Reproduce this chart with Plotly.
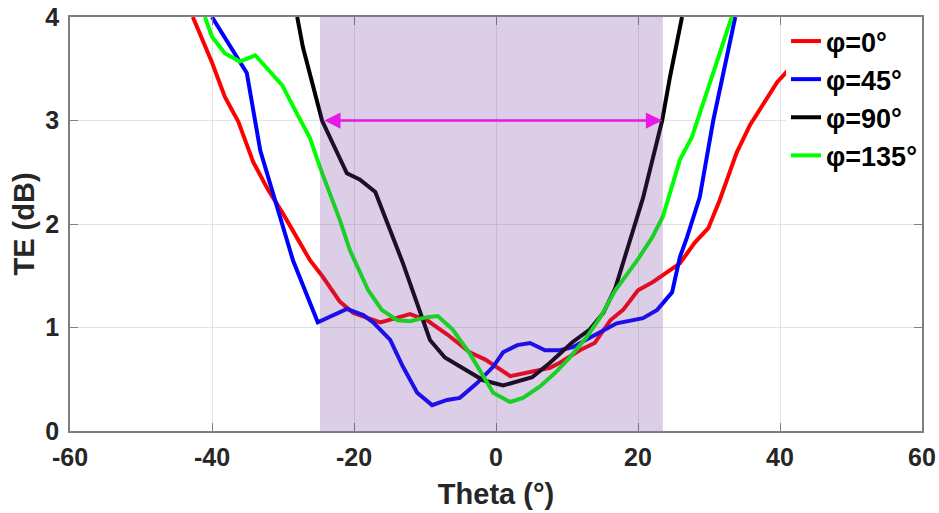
import plotly.graph_objects as go

# ---- data ----
red_x = [-42.7, -40.0, -38.2, -36.3, -34.2, -32.1, -30.0, -26.2, -24.4, -22.0, -20.1, -16.3, -12.1, -9.7, -6.8, -3.7, -1.5, 2.0, 4.8, 7.6, 9.0, 11.8, 13.9, 16.1, 17.9, 20.0, 22.1, 25.9, 28.0, 29.9, 31.5, 33.9, 35.8, 39.6, 44.0, 50.0, 56.0, 60.0]
red_y = [4.0, 3.56, 3.23, 2.99, 2.60, 2.33, 2.10, 1.65, 1.49, 1.25, 1.14, 1.05, 1.13, 1.07, 0.93, 0.76, 0.69, 0.53, 0.57, 0.61, 0.66, 0.78, 0.85, 1.07, 1.17, 1.36, 1.44, 1.62, 1.82, 1.96, 2.23, 2.69, 2.96, 3.37, 3.70, 3.85, 3.95, 4.0]

blue_x = [-40.0, -35.1, -33.2, -30.4, -28.6, -25.1, -21.0, -18.7, -17.3, -14.9, -13.1, -11.1, -9.0, -6.9, -5.1, -2.7, -0.4, 1.0, 3.0, 4.8, 6.9, 9.0, 10.8, 13.2, 17.0, 20.7, 22.7, 24.8, 25.9, 26.9, 28.7, 30.6, 33.7]
blue_y = [4.0, 3.46, 2.71, 2.07, 1.65, 1.05, 1.18, 1.12, 1.05, 0.88, 0.62, 0.37, 0.25, 0.30, 0.32, 0.46, 0.62, 0.76, 0.83, 0.85, 0.78, 0.78, 0.81, 0.90, 1.04, 1.09, 1.17, 1.34, 1.68, 1.87, 2.26, 3.00, 4.0]

black_x = [-28.0, -27.2, -24.5, -21.0, -19.2, -17.0, -13.1, -11.4, -9.3, -7.2, -3.7, -1.8, 1.0, 2.4, 5.1, 7.6, 10.8, 13.2, 15.1, 16.8, 18.5, 20.7, 23.4, 24.5, 26.2]
black_y = [4.0, 3.71, 3.00, 2.49, 2.43, 2.31, 1.62, 1.29, 0.88, 0.71, 0.56, 0.49, 0.44, 0.47, 0.52, 0.66, 0.86, 0.98, 1.14, 1.38, 1.75, 2.25, 3.00, 3.42, 4.0]

green_x = [-41.0, -40.0, -38.2, -36.1, -33.9, -30.1, -28.3, -26.2, -24.8, -22.0, -20.6, -18.0, -16.1, -13.9, -12.1, -9.7, -8.2, -6.1, -3.7, -0.4, 2.0, 3.8, 6.2, 8.3, 10.4, 12.8, 14.6, 16.8, 19.9, 22.0, 23.5, 25.9, 27.6, 29.7, 33.2]
green_y = [4.0, 3.81, 3.65, 3.57, 3.63, 3.34, 3.10, 2.83, 2.55, 2.04, 1.75, 1.36, 1.17, 1.07, 1.06, 1.10, 1.11, 0.98, 0.75, 0.37, 0.28, 0.32, 0.43, 0.56, 0.71, 0.91, 1.09, 1.36, 1.65, 1.87, 2.07, 2.62, 2.84, 3.27, 4.0]

series_names = ["φ=0°", "φ=45°", "φ=90°", "φ=135°"]
series_colors = ["#ff0000", "#0000ff", "#000000", "#00ff00"]

band_x = [-24.8, 23.5]
arrow_x = [-24.4, 23.4]
arrow_y = 3.0

x_ticks = [-60, -40, -20, 0, 20, 40, 60]
y_ticks = [0, 1, 2, 3, 4]

FONT = "Liberation Sans, Arial, sans-serif"
TXT = "#262626"

fig = go.Figure()
for xs, ys, name, col in zip([red_x, blue_x, black_x, green_x],
                             [red_y, blue_y, black_y, green_y],
                             series_names, series_colors):
    fig.add_trace(go.Scatter(x=xs, y=ys, mode="lines", name=name,
                             line=dict(color=col, width=4)))

fig.add_shape(type="rect", xref="x", yref="y", x0=band_x[0], x1=band_x[1], y0=0, y1=4,
              fillcolor="rgba(120,60,160,0.25)", line=dict(width=0), layer="above")

fig.add_annotation(x=arrow_x[1], y=arrow_y, ax=arrow_x[0], ay=arrow_y,
                   xref="x", yref="y", axref="x", ayref="y", text="",
                   showarrow=True, arrowside="end+start", arrowhead=2, startarrowhead=2,
                   arrowsize=1.3, startarrowsize=1.3, arrowwidth=2.5, arrowcolor="#e619e6")

axis_common = dict(showline=True, linecolor="#7f7f7f", linewidth=1.5, mirror="allticks",
                   ticks="inside", ticklen=8, tickcolor="#7f7f7f",
                   showgrid=True, gridcolor="#e3e3e3", gridwidth=1, zeroline=False,
                   automargin=False, ticklabeloverflow="allow",
                   tickfont=dict(family=FONT, size=25, color=TXT, weight="bold"))

fig.update_xaxes(range=[-60, 60], tickvals=x_ticks, ticktext=[str(v) for v in x_ticks],
                 ticklabelstandoff=3,
                 title=dict(text="Theta (°)", font=dict(family=FONT, size=29, color=TXT, weight="bold"), standoff=14),
                 **axis_common)
fig.update_yaxes(range=[0, 4], tickvals=y_ticks, ticktext=[str(v) for v in y_ticks],
                 ticklabelstandoff=4,
                 title=dict(text="TE (dB)", font=dict(family=FONT, size=29, color=TXT, weight="bold"), standoff=2),
                 **axis_common)

fig.update_layout(
    width=939, height=513,
    margin=dict(l=70, r=17, t=17, b=82),
    plot_bgcolor="white", paper_bgcolor="white",
    font=dict(family=FONT, size=21, color=TXT),
    legend=dict(x=1, y=1, xanchor="right", yanchor="top", bgcolor="white",
                borderwidth=0, font=dict(family=FONT, size=27, color="#000000", weight="bold"),
                itemwidth=30, tracegroupgap=0),
    showlegend=True,
)

fig.write_html("out.html", config={"displayModeBar": False},
               post_script="document.body.style.margin='0';document.body.style.overflow='hidden';")
